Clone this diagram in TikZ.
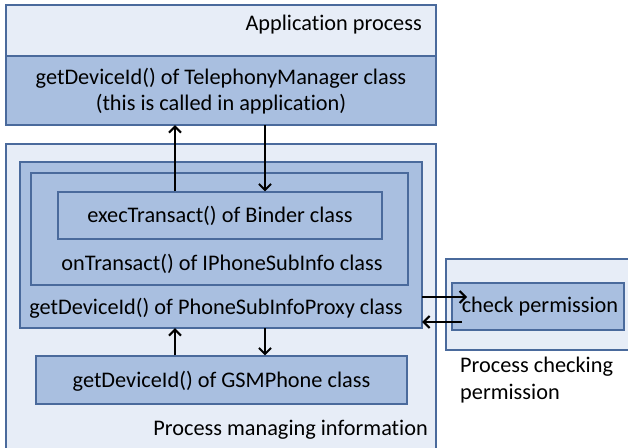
\documentclass[tikz,border=0pt]{standalone}
\usepackage{fontspec}
\setmainfont[Ligatures=NoCommon]{Carlito}
\usetikzlibrary{arrows.meta}
\definecolor{lightbg}{HTML}{E7EDF7}
\definecolor{midbg}{HTML}{A9BFE0}
\definecolor{edge}{HTML}{4A6A9C}
\tikzset{
  lightbox/.style={draw=edge, line width=1.3pt, fill=lightbg},
  midbox/.style={draw=edge, line width=1.3pt, fill=midbg},
  arr/.style={draw=black, line width=2.6pt, -{Straight Barb[length=6pt,width=12pt,line width=2pt]}},
  lbl/.style={font=\fontsize{22.3}{26.5}\selectfont, inner sep=0pt, align=center}
}
\begin{document}
\begin{tikzpicture}[x=1pt,y=-1pt]
\useasboundingbox (0,0) rectangle (628,447);
\begin{scope}
\clip (0,0) rectangle (628,447);
% application process
\draw[lightbox] (6,5) rectangle (436,125);
\node[lbl, anchor=east] (apptxt) at (422,25) {Application process};
\draw[midbox] (6,56) rectangle (436,125);
\node[inner sep=0pt, minimum width=430pt, minimum height=69pt] (tm) at (221,90.5) {};
\node[lbl] (tmtxt) at (221,91) {getDeviceId() of TelephonyManager class\\(this is called in application)};
\draw[edge, line width=2pt] (6,125) -- (436,125);
% process managing information
\draw[lightbox] (6,144) rectangle (436,470);
\node[lbl, anchor=east] (mgrtxt) at (428,430) {Process managing information};
\draw[midbox] (20,162) rectangle (422,328);
\node[inner sep=0pt, minimum width=402pt, minimum height=166pt] (proxy) at (221,245) {};
\node[lbl] (proxytxt) at (216,308) {getDeviceId() of PhoneSubInfoProxy class};
\draw[midbox] (31,173) rectangle (408,285);
\node[lbl] (ontxt) at (222,264) {onTransact() of IPhoneSubInfo class};
\node[midbox, inner sep=0pt, minimum width=324pt, minimum height=47pt] (exec) at (220,215.5) {};
\node[lbl] (exectxt) at (220,216) {execTransact() of Binder class};
\node[midbox, inner sep=0pt, minimum width=371pt, minimum height=48pt] (gsm) at (221.5,380) {};
\node[lbl] (gsmtxt) at (221.5,381) {getDeviceId() of GSMPhone class};
% process checking permission
\draw[lightbox] (446,259) rectangle (660,350);
\node[midbox, inner sep=0pt, minimum width=172pt, minimum height=47pt] (chk) at (538,306.5) {};
\node[lbl] (chktxt) at (540,307) {check permission};
\node[lbl, anchor=north west, align=left] (chkproc) at (460,357) {Process checking\\permission};
\end{scope}
% connectors
\coordinate (cu) at (175,0);
\coordinate (cd) at (265,0);
\coordinate (rtip) at (467,297);
\coordinate (lstart) at (462,322);
\draw[arr] (exec.north -| cu) -- (tm.south -| cu);
\draw[arr] (tm.south -| cd) -- (exec.north -| cd);
\draw[arr] (gsm.north -| cu) -- (proxy.south -| cu);
\draw[arr] (proxy.south -| cd) -- (gsm.north -| cd);
\draw[arr] (proxy.east |- rtip) -- (rtip);
\draw[arr] (lstart) -- (proxy.east |- lstart);
\end{tikzpicture}
\end{document}
